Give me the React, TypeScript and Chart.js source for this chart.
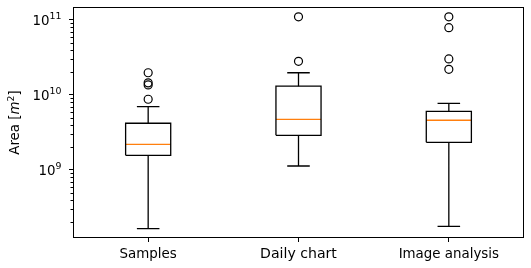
import React, { useEffect, useRef } from "react";
import { Chart, registerables } from "chart.js";

Chart.register(...registerables);

// ---- data ----
const categories = ["Samples", "Daily chart", "Image analysis"];
const q1 = [1.57e9, 2.9e9, 2.34e9];
const medians = [2.2e9, 4.74e9, 4.6e9];
const q3 = [4.2e9, 1.31e10, 6.06e9];
const whiskerLow = [1.65e8, 1.13e9, 1.77e8];
const whiskerHigh = [6.98e9, 1.98e10, 7.74e9];
const outliersSamples = [8.77e9, 1.36e10, 1.45e10, 1.98e10];
const outliersDaily = [2.81e10, 1.1e11];
const outliersImage = [2.2e10, 3.02e10, 7.9e10, 1.1e11];
const outliers = [outliersSamples, outliersDaily, outliersImage];
const yMajorTicks = [1e9, 1e10, 1e11];
const yMin = Math.pow(10, 8.093);
const yMax = Math.pow(10, 11.173);

const BOX_HALF = 0.15; // half box width in category units
const CAP_HALF = 0.075;
const FONT = "'DejaVu Sans', sans-serif";
const FONT_SIZE = 13.4;
const LINE_W = 1.3;

type P = { x: number; y: number | null };

function buildBoxes(): P[] {
  const pts: P[] = [];
  categories.forEach((_, i) => {
    const x = i + 1;
    pts.push({ x: x - BOX_HALF, y: q1[i] }, { x: x + BOX_HALF, y: q1[i] },
      { x: x + BOX_HALF, y: q3[i] }, { x: x - BOX_HALF, y: q3[i] },
      { x: x - BOX_HALF, y: q1[i] }, { x, y: null });
  });
  return pts;
}
function buildWhiskers(): P[] {
  const pts: P[] = [];
  categories.forEach((_, i) => {
    const x = i + 1;
    pts.push({ x, y: q1[i] }, { x, y: whiskerLow[i] }, { x, y: null });
    pts.push({ x, y: q3[i] }, { x, y: whiskerHigh[i] }, { x, y: null });
    pts.push({ x: x - CAP_HALF, y: whiskerLow[i] }, { x: x + CAP_HALF, y: whiskerLow[i] }, { x, y: null });
    pts.push({ x: x - CAP_HALF, y: whiskerHigh[i] }, { x: x + CAP_HALF, y: whiskerHigh[i] }, { x, y: null });
  });
  return pts;
}
function buildMedians(): P[] {
  const pts: P[] = [];
  categories.forEach((_, i) => {
    const x = i + 1;
    pts.push({ x: x - BOX_HALF, y: medians[i] }, { x: x + BOX_HALF, y: medians[i] }, { x, y: null });
  });
  return pts;
}
function buildFliers(): P[] {
  const pts: P[] = [];
  outliers.forEach((arr, i) => arr.forEach((v) => pts.push({ x: i + 1, y: v })));
  return pts;
}

const framePlugin = {
  id: "frame",
  afterDatasetsDraw(chart: any) {
    const { ctx, chartArea: a } = chart;
    const L = Math.round(a.left) + 0.5;
    const T = Math.round(a.top) + 0.5;
    const R = Math.round(a.right) - 0.5;
    const B = Math.round(a.bottom) - 0.5;
    ctx.save();
    ctx.strokeStyle = "#000";
    ctx.lineWidth = 1;
    ctx.strokeRect(L, T, R - L, B - T);
    const ys = chart.scales.y;
    // minor ticks on log axis
    for (let k = 8; k <= 11; k++) {
      for (let m = 2; m <= 9; m++) {
        const v = m * Math.pow(10, k);
        if (v < yMin || v > yMax) continue;
        const py = Math.round(ys.getPixelForValue(v)) + 0.5;
        ctx.beginPath();
        ctx.moveTo(L, py);
        ctx.lineTo(L - 3, py);
        ctx.stroke();
      }
    }
    // major y tick labels: 10^n with superscript exponent
    ctx.fillStyle = "#000";
    ctx.textBaseline = "alphabetic";
    yMajorTicks.forEach((v) => {
      const py = ys.getPixelForValue(v);
      const e = String(Math.round(Math.log10(v)));
      const baseFont = `${FONT_SIZE}px ${FONT}`;
      const expFont = `${FONT_SIZE * 0.7}px ${FONT}`;
      ctx.font = expFont;
      const we = ctx.measureText(e).width;
      ctx.font = baseFont;
      const wb = ctx.measureText("10").width;
      const right = 61.5;
      ctx.fillText("10", right - we - wb, py + 5.5);
      ctx.font = expFont;
      ctx.fillText(e, right - we, py - 0.5);
    });
    // y axis title: Area [m^2]
    const cy = (a.top + a.bottom) / 2;
    const normal = `${FONT_SIZE}px ${FONT}`;
    const italic = `italic ${FONT_SIZE}px ${FONT}`;
    const small = `${FONT_SIZE * 0.7}px ${FONT}`;
    const parts: [string, string, number][] = [
      ["Area [", normal, 0], ["m", italic, 0], ["2", small, -5.5], ["]", normal, 0],
    ];
    let total = 0;
    const widths = parts.map(([t, f]) => { ctx.font = f; const w = ctx.measureText(t).width; total += w; return w; });
    ctx.translate(19, cy);
    ctx.rotate(-Math.PI / 2);
    let x = -total / 2;
    parts.forEach(([t, f, dy], i) => {
      ctx.font = f;
      ctx.fillText(t, x, dy);
      x += widths[i];
    });
    ctx.restore();
  },
};

export default function App() {
  const ref = useRef<HTMLCanvasElement>(null);
  useEffect(() => {
    if (!ref.current) return;
    const lineCommon = {
      type: "line" as const,
      pointRadius: 0,
      pointHoverRadius: 0,
      borderWidth: LINE_W,
      tension: 0,
      spanGaps: false,
      fill: false,
    };
    const chart = new Chart(ref.current, {
      type: "line",
      data: {
        datasets: [
          { ...lineCommon, label: "box", data: buildBoxes() as any, borderColor: "#000" },
          { ...lineCommon, label: "whisker", data: buildWhiskers() as any, borderColor: "#000" },
          { ...lineCommon, label: "median", data: buildMedians() as any, borderColor: "#ff7f0e" },
          {
            type: "scatter" as const,
            label: "fliers",
            data: buildFliers() as any,
            pointStyle: "circle",
            pointRadius: 4,
            pointBorderWidth: 1.2,
            borderColor: "#000",
            backgroundColor: "rgba(0,0,0,0)",
            showLine: false,
          } as any,
        ],
      },
      options: {
        animation: false,
        responsive: false,
        events: [],
        layout: { padding: { left: 0, right: 7, top: 7, bottom: 0 } },
        plugins: { legend: { display: false }, tooltip: { enabled: false } },
        scales: {
          x: {
            type: "linear",
            min: 0.5,
            max: 3.5,
            afterBuildTicks: (s: any) => { s.ticks = categories.map((_, i) => ({ value: i + 1 })); },
            afterFit: (s: any) => { s.height = 30; s.paddingLeft = 0; s.paddingRight = 0; s.paddingTop = 0; s.paddingBottom = 0; },
            ticks: {
              autoSkip: false,
              maxRotation: 0,
              padding: 4,
              color: "#000",
              font: (c: any) => ({ family: FONT, size: c.index === 1 ? 14.1 : FONT_SIZE }),
              callback: (v: any) => categories[Math.round(v) - 1] ?? "",
            },
            grid: { drawOnChartArea: false, drawTicks: true, tickLength: 4, tickWidth: 1, color: "#000" },
            border: { display: false },
          },
          y: {
            type: "logarithmic",
            min: yMin,
            max: yMax,
            afterBuildTicks: (s: any) => { s.ticks = yMajorTicks.map((v) => ({ value: v, major: true })); },
            afterFit: (s: any) => { s.width = 73; s.paddingLeft = 0; s.paddingRight = 0; s.paddingTop = 0; s.paddingBottom = 0; },
            ticks: {
              autoSkip: false,
              padding: 4,
              color: "#000",
              font: { family: FONT, size: FONT_SIZE },
              callback: () => "",
            },
            grid: { drawOnChartArea: false, drawTicks: true, tickLength: 4, tickWidth: 1, color: "#000" },
            border: { display: false },
          },
        },
      },
      plugins: [framePlugin],
    });
    return () => chart.destroy();
  }, []);
  return (
    <div style={{ position: "absolute", left: 0, top: 0, width: 531, height: 268, background: "#fff" }}>
      <canvas ref={ref} width={531} height={268} style={{ width: 531, height: 268, display: "block" }} />
    </div>
  );
}
